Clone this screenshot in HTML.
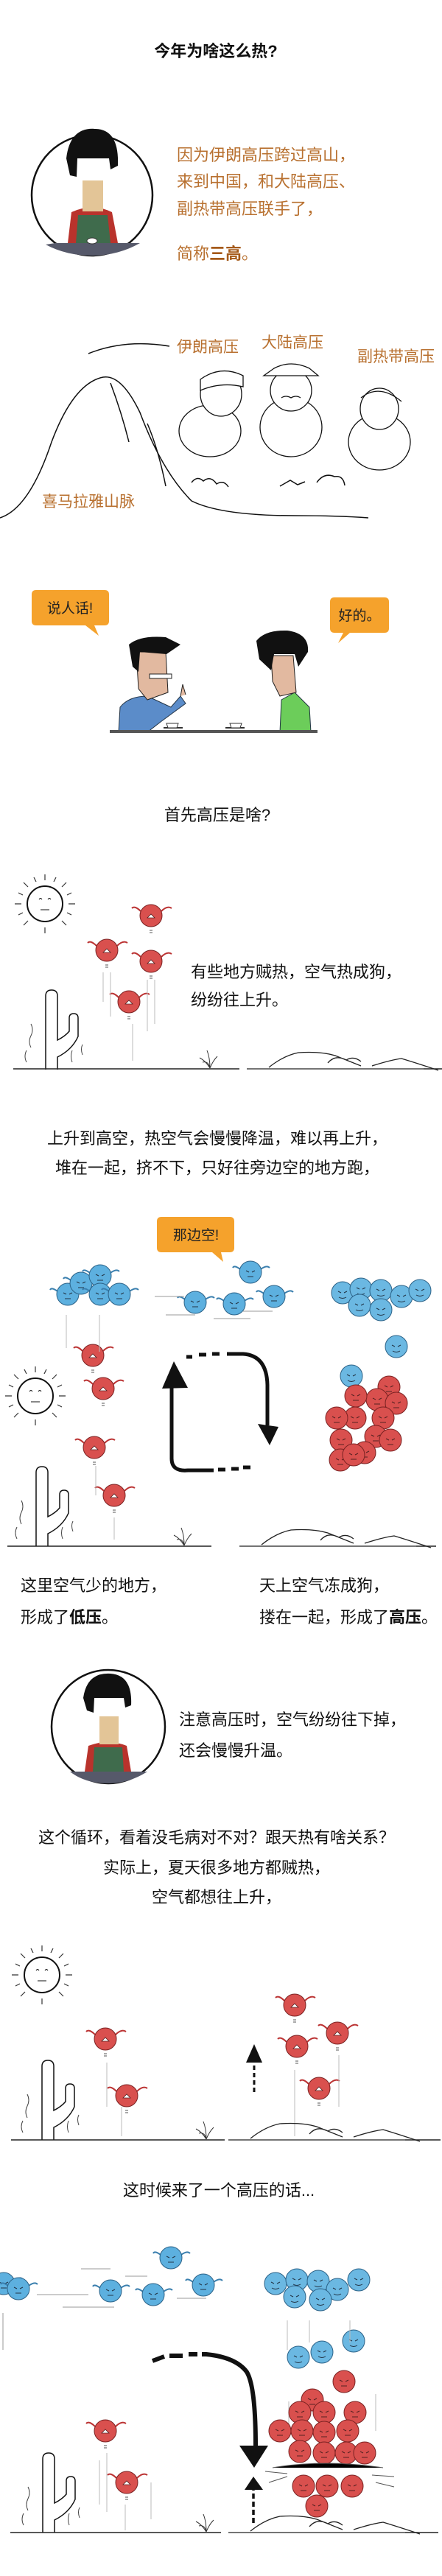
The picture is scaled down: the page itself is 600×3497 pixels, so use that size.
<!DOCTYPE html>
<html><head><meta charset="utf-8"><style>
html,body{margin:0;padding:0;background:#fff}
svg{display:block}
text{font-family:"Liberation Sans","Noto Sans CJK SC",sans-serif}
</style></head><body>
<svg width="600" height="3497" viewBox="0 0 600 3497" xmlns="http://www.w3.org/2000/svg">
<defs>
<g id="rb"><path d="M-14,-6 Q-22,-14 -26,-10 M14,-6 Q22,-14 28,-10" stroke="#b33" stroke-width="2" fill="none"/><circle r="15" fill="#d9504e" stroke="#7a2222" stroke-width="1"/><path d="M-5,3 L0,-2 L5,3 Z" fill="#fff" stroke="#522" stroke-width="0.8"/><path d="M-2,20 h4 M-2,23 h4" stroke="#555" stroke-width="1"/></g>
<g id="rr"><circle r="15" fill="#d9504e" stroke="#7a2222" stroke-width="1"/><path d="M-6,-2 l4,2 M6,-2 l-4,2 M-4,6 h8" stroke="#522" stroke-width="1"/></g>
<g id="bb"><path d="M-14,-4 Q-22,-10 -24,-6 M14,-4 Q22,-10 26,-6" stroke="#3a7fae" stroke-width="2" fill="none"/><circle r="15" fill="#5db0df" stroke="#2c6287" stroke-width="1"/><path d="M-6,-2 l4,2 M6,-2 l-4,2 M-4,6 h8" stroke="#234" stroke-width="1"/></g>
<g id="bs"><circle r="15" fill="#6bb8e2" stroke="#2c6287" stroke-width="1"/><path d="M-6,-2 l4,2 M6,-2 l-4,2 M-5,6 q5,3 10,0" stroke="#234" stroke-width="1" fill="none"/></g>
<g id="sun"><circle r="24" fill="none" stroke="#111" stroke-width="2"/><path d="M-8,-6 q2,-3 4,0 M4,-6 q2,-3 4,0 M-6,8 h12" stroke="#111" stroke-width="1" fill="none"/><g stroke="#333" stroke-width="1.2"><path d="M0,-32 v-8 M0,32 v8 M-32,0 h-9 M32,0 h9 M23,-23 l6,-6 M-23,-23 l-6,-6 M23,23 l6,6 M-23,23 l-6,6 M12,-30 l3,-6 M-12,-30 l-3,-6 M30,-12 l6,-3 M-30,-12 l-6,-3 M30,12 l6,3 M-30,12 l-6,3"/></g></g>
<g id="cactus"><path d="M0,0 V-100 q0,-8 8,-8 q8,0 8,8 V-40 q10,-5 16,-12 V-70 q0,-6 6,-6 q6,0 6,6 V-45 q-8,18 -28,28 V0" fill="#fff" stroke="#111" stroke-width="1.5"/><path d="M-20,-30 q-4,-8 0,-16 q4,-8 0,-16 M-26,-10 q-4,-8 0,-16 M36,-10 q-3,-8 0,-16 M50,-20 q-3,-8 0,-14" stroke="#444" fill="none" stroke-width="1"/></g>
<g id="grass"><path d="M0,0 q-6,-10 -14,-14 M0,0 q0,-14 -4,-24 M0,0 q4,-10 10,-16 M0,0 q-2,-10 -10,-8" stroke="#333" fill="none" stroke-width="1"/></g>
<g id="hills"><path d="M0,0 L240,0 M30,-2 q20,-16 40,-20 q30,-2 50,4 q20,8 35,14 M110,-8 q10,-12 25,-4 q10,-6 20,2 M170,-4 q25,-8 40,-10 q20,6 50,16" stroke="#222" fill="none" stroke-width="1.3"/></g>
</defs>

<!-- Title -->
<text x="293" y="77" font-size="22" font-weight="bold" text-anchor="middle" fill="#111">今年为啥这么热?</text>

<!-- Avatar circle 1 -->
<g>
<circle cx="125" cy="265" r="82" fill="#fff" stroke="#111" stroke-width="2.5"/>
<path d="M75,330 L175,330 L190,330 Q160,347 125,347 Q90,347 62,332 Z" fill="#56596a"/>
<path d="M92,330 L97,288 Q125,275 152,288 L160,330 Z" fill="#b9332c"/>
<path d="M103,330 L106,292 L146,292 L150,330 Z" fill="#3f6b4c"/>
<rect x="112" y="245" width="28" height="42" fill="#e3c597"/>
<path d="M90,215 Q95,172 130,175 Q162,176 160,225 L150,230 L148,215 L105,215 L104,240 L95,238 Z" fill="#111"/>
<ellipse cx="125" cy="327" rx="7" ry="4" fill="#fff" stroke="#333"/>
</g>
<g font-size="22" fill="#b8702f">
<text x="240" y="218">因为伊朗高压跨过高山，</text>
<text x="240" y="254">来到中国，和大陆高压、</text>
<text x="240" y="291">副热带高压联手了，</text>
<text x="240" y="352">简称<tspan font-weight="bold" fill="#a55a1a">三高</tspan>。</text>
</g>

<!-- Mountain scene -->
<g font-size="21" fill="#b8702f">
<text x="240" y="478">伊朗高压</text>
<text x="355" y="472">大陆高压</text>
<text x="485" y="491">副热带高压</text>
<text x="57" y="688">喜马拉雅山脉</text>
</g>
<g stroke="#111" fill="none" stroke-width="1.5">
<path d="M0,703 Q40,690 70,600 Q100,520 140,512 Q165,508 190,560 Q220,640 260,680 Q300,700 400,700 Q460,700 500,703"/>
<path d="M120,480 Q170,460 230,470"/>
<path d="M150,520 Q165,560 175,600 M200,575 Q215,610 225,660"/>
<path d="M260,655 q8,-10 16,-2 q10,-8 18,4 q10,-6 16,4 M430,655 q10,-14 24,-8 q12,-2 14,12"/>
<path d="M380,660 l14,-8 l10,6 l10,-4"/>
</g>
<!-- three characters -->
<g stroke="#111" stroke-width="1.3" fill="#fff">
<ellipse cx="285" cy="585" rx="42" ry="35"/>
<ellipse cx="300" cy="535" rx="28" ry="30"/>
<path d="M272,515 Q300,495 330,510 L330,525 Q300,518 272,530 Z"/>
<ellipse cx="395" cy="580" rx="42" ry="40"/>
<ellipse cx="395" cy="530" rx="28" ry="28"/>
<path d="M358,510 L432,510 L420,500 Q395,488 372,500 Z"/>
<path d="M382,540 q6,-4 13,0 q7,-4 13,0" fill="none"/>
<ellipse cx="515" cy="600" rx="42" ry="38"/>
<ellipse cx="515" cy="555" rx="26" ry="28"/>
<path d="M490,540 Q515,520 545,545" fill="none"/>
</g>

<!-- Talk scene -->
<path d="M52,801 H142 Q148,801 148,807 V843 Q148,849 142,849 H128 L134,863 L116,849 H49 Q43,849 43,843 V807 Q43,801 49,801 Z" fill="#f5a22c"/>
<text x="95" y="832" font-size="19" text-anchor="middle" fill="#222">说人话!</text>
<path d="M454,811 H522 Q528,811 528,817 V853 Q528,859 522,859 H475 L459,873 L466,859 H454 Q448,859 448,853 V817 Q448,811 454,811 Z" fill="#f5a22c"/>
<text x="488" y="842" font-size="19" text-anchor="middle" fill="#222">好的。</text>
<!-- left person -->
<path d="M161,994 L163,960 Q175,945 200,945 L232,960 L245,945 L252,955 L218,980 L200,994 Z" fill="#5b8cc9" stroke="#234" stroke-width="1"/>
<path d="M185,885 L225,885 L228,940 L200,950 L188,935 Z" fill="#e2b9a0" stroke="#222" stroke-width="1"/>
<path d="M175,875 Q190,862 225,865 L245,875 L226,888 L190,885 L188,912 L180,905 Z" fill="#111"/>
<path d="M203,915 h30 v6 h-30 z" fill="#fff" stroke="#222"/>
<path d="M245,945 l3,-16 l4,14" stroke="#222" fill="#e2b9a0"/>
<!-- right person -->
<path d="M380,994 L382,950 L400,940 L420,960 L422,994 Z" fill="#6ccd5a" stroke="#234" stroke-width="1"/>
<path d="M368,890 L398,890 L402,940 L380,945 L370,925 Z" fill="#e2b9a0" stroke="#222" stroke-width="1"/>
<path d="M348,870 Q360,855 390,856 Q420,860 418,885 L405,905 L400,888 L372,888 L368,910 L352,895 Z" fill="#111"/>
<rect x="149" y="991" width="282" height="4" fill="#555"/>
<path d="M222,988 h26 M306,988 h26" stroke="#333" stroke-width="2"/>
<path d="M226,982 h16 l-2,6 h-12 z M312,982 h16 l-2,6 h-12 z" fill="#fff" stroke="#333"/>

<text x="295" y="1114" font-size="22" text-anchor="middle" fill="#111">首先高压是啥?</text>

<!-- Scene 1 -->
<use href="#sun" x="61" y="1227"/>
<use href="#rb" x="205" y="1243"/>
<use href="#rb" x="145" y="1290"/>
<use href="#rb" x="205" y="1305"/>
<use href="#rb" x="175" y="1360"/>
<g stroke="#bbb" stroke-width="1"><path d="M140,1320 v40 M150,1320 v60 M180,1390 v50 M200,1330 v70 M210,1330 v60"/></g>
<use href="#cactus" x="62" y="1452"/>
<path d="M18,1451 H325" stroke="#222" stroke-width="1.5"/>
<use href="#grass" x="285" y="1450"/>
<use href="#hills" x="335" y="1451"/>
<path d="M575,1451 H600" stroke="#222" stroke-width="1.5"/>
<g font-size="22" fill="#111">
<text x="259" y="1327">有些地方贼热，空气热成狗，</text>
<text x="259" y="1365">纷纷往上升。</text>
</g>

<g font-size="22" fill="#111" text-anchor="middle">
<text x="295" y="1553">上升到高空，热空气会慢慢降温，难以再上升，</text>
<text x="295" y="1593">堆在一起，挤不下，只好往旁边空的地方跑，</text>
</g>

<!-- Scene 2 -->
<path d="M219,1652 H312 Q318,1652 318,1658 V1694 Q318,1700 312,1700 H300 L303,1713 L288,1700 H219 Q213,1700 213,1694 V1658 Q213,1652 219,1652 Z" fill="#f5a22c"/>
<text x="266" y="1683" font-size="19" text-anchor="middle" fill="#222">那边空!</text>
<use href="#bb" x="92" y="1757"/><use href="#bb" x="110" y="1742"/><use href="#bb" x="136" y="1732"/><use href="#bb" x="136" y="1757"/><use href="#bb" x="162" y="1757"/>
<use href="#bb" x="340" y="1727"/><use href="#bb" x="265" y="1768"/><use href="#bb" x="318" y="1770"/><use href="#bb" x="372" y="1760"/>
<g stroke="#999" stroke-width="1"><path d="M210,1760 h40 M225,1785 h40 M290,1790 h50 M330,1780 h40"/></g>
<use href="#bs" x="465" y="1755"/><use href="#bs" x="490" y="1750"/><use href="#bs" x="517" y="1752"/><use href="#bs" x="545" y="1760"/><use href="#bs" x="570" y="1752"/><use href="#bs" x="488" y="1772"/><use href="#bs" x="517" y="1778"/>
<use href="#bs" x="538" y="1828"/><use href="#bs" x="477" y="1868"/>
<use href="#rr" x="528" y="1883"/><use href="#rr" x="512" y="1900"/><use href="#rr" x="538" y="1905"/><use href="#rr" x="483" y="1895"/><use href="#rr" x="520" y="1925"/><use href="#rr" x="482" y="1925"/><use href="#rr" x="457" y="1925"/><use href="#rr" x="510" y="1950"/><use href="#rr" x="530" y="1955"/><use href="#rr" x="463" y="1955"/><use href="#rr" x="495" y="1972"/><use href="#rr" x="462" y="1982"/><use href="#rr" x="480" y="1975"/>
<use href="#sun" x="48" y="1895"/>
<use href="#rb" x="126" y="1840"/><use href="#rb" x="140" y="1885"/><use href="#rb" x="128" y="1965"/><use href="#rb" x="155" y="2030"/>
<g stroke="#bbb" stroke-width="1"><path d="M90,1785 v45 M135,1785 v50 M130,1990 v40 M155,2060 v30"/></g>
<!-- cycle arrows -->
<g fill="none" stroke="#111" stroke-width="5">
<path d="M233,1870 V1980 Q233,1998 255,1996 H290"/>
<path d="M296,1995 h10 M314,1994 h10 M330,1992 h10" stroke-width="5"/>
<path d="M253,1842 h8 M270,1839 h10 M288,1838 h10"/>
<path d="M308,1838 H330 Q362,1840 363,1880 V1935"/>
</g>
<path d="M220,1885 L236,1848 L255,1884 Z" fill="#111"/>
<path d="M350,1933 L378,1937 L366,1962 Z" fill="#111"/>
<use href="#cactus" x="49" y="2099"/>
<path d="M10,2099 H287" stroke="#222" stroke-width="1.5"/>
<use href="#grass" x="250" y="2098"/>
<use href="#hills" x="325" y="2099"/>
<path d="M565,2099 H592" stroke="#222" stroke-width="1.5"/>
<g font-size="22" fill="#111">
<text x="28" y="2160">这里空气少的地方，</text>
<text x="28" y="2203">形成了<tspan font-weight="bold">低压</tspan>。</text>
<text x="352" y="2160">天上空气冻成狗，</text>
<text x="352" y="2203">搂在一起，形成了<tspan font-weight="bold">高压</tspan>。</text>
</g>

<!-- Avatar circle 2 -->
<g>
<circle cx="147" cy="2344" r="77" fill="#fff" stroke="#111" stroke-width="2.5"/>
<path d="M95,2405 L200,2405 Q175,2421 147,2421 Q115,2421 95,2405 Z" fill="#56596a"/>
<path d="M115,2405 L120,2370 Q147,2360 172,2370 L178,2405 Z" fill="#b9332c"/>
<path d="M126,2405 L128,2372 L166,2372 L168,2405 Z" fill="#3f6b4c"/>
<rect x="135" y="2330" width="26" height="38" fill="#e3c597"/>
<path d="M113,2305 Q118,2270 150,2272 Q180,2274 178,2315 L170,2318 L168,2305 L128,2305 L127,2325 L118,2322 Z" fill="#111"/>
</g>
<g font-size="22" fill="#111">
<text x="243" y="2342">注意高压时，空气纷纷往下掉，</text>
<text x="243" y="2384">还会慢慢升温。</text>
</g>

<g font-size="22" fill="#111" text-anchor="middle">
<text x="294" y="2502">这个循环，看着没毛病对不对？跟天热有啥关系？</text>
<text x="294" y="2543">实际上，夏天很多地方都贼热，</text>
<text x="294" y="2583">空气都想往上升，</text>
</g>

<!-- Scene 3 -->
<use href="#sun" x="57" y="2681"/>
<use href="#rb" x="143" y="2768"/><use href="#rb" x="172" y="2845"/>
<use href="#rb" x="400" y="2722"/><use href="#rb" x="403" y="2778"/><use href="#rb" x="458" y="2760"/><use href="#rb" x="433" y="2835"/>
<g stroke="#bbb" stroke-width="1"><path d="M145,2800 v60 M165,2860 v40 M400,2810 v90 M460,2790 v70"/></g>
<path d="M345,2840 V2800" stroke="#111" stroke-width="3" stroke-dasharray="6,4"/>
<path d="M345,2775 L334,2800 L356,2800 Z" fill="#111"/>
<use href="#cactus" x="57" y="2905"/>
<path d="M15,2905 H305" stroke="#222" stroke-width="1.5"/>
<use href="#grass" x="280" y="2904"/>
<use href="#hills" x="310" y="2905"/>
<path d="M550,2905 H598" stroke="#222" stroke-width="1.5"/>

<text x="297" y="2981" font-size="22" text-anchor="middle" fill="#111">这时候来了一个高压的话...</text>

<!-- Scene 4 -->
<use href="#bb" x="5" y="3100"/><use href="#bb" x="25" y="3107"/>
<use href="#bb" x="150" y="3110"/><use href="#bb" x="208" y="3115"/><use href="#bb" x="232" y="3065"/><use href="#bb" x="276" y="3102"/>
<g stroke="#999" stroke-width="1"><path d="M50,3115 h70 M85,3132 h70 M110,3080 h40 M170,3090 h30 M240,3120 h40"/><path d="M4,3140 v50"/></g>
<use href="#bs" x="374" y="3100"/><use href="#bs" x="403" y="3095"/><use href="#bs" x="432" y="3097"/><use href="#bs" x="458" y="3108"/><use href="#bs" x="487" y="3095"/><use href="#bs" x="400" y="3118"/><use href="#bs" x="435" y="3122"/>
<use href="#bs" x="405" y="3200"/><use href="#bs" x="437" y="3193"/><use href="#bs" x="480" y="3178"/>
<g stroke="#bbb" stroke-width="1"><path d="M390,3150 v40 M420,3150 v30 M475,3150 v30 M392,3260 v50 M510,3250 v50"/></g>
<use href="#rr" x="467" y="3233"/><use href="#rr" x="424" y="3258"/><use href="#rr" x="407" y="3275"/><use href="#rr" x="440" y="3275"/><use href="#rr" x="482" y="3275"/>
<use href="#rr" x="380" y="3300"/><use href="#rr" x="410" y="3300"/><use href="#rr" x="440" y="3302"/><use href="#rr" x="472" y="3300"/>
<use href="#rr" x="407" y="3328"/><use href="#rr" x="440" y="3330"/><use href="#rr" x="470" y="3330"/><use href="#rr" x="495" y="3330"/>
<use href="#rr" x="412" y="3375"/><use href="#rr" x="444" y="3375"/><use href="#rr" x="478" y="3375"/><use href="#rr" x="430" y="3402"/>
<g stroke="#555" stroke-width="1"><path d="M360,3355 l30,3 M365,3370 l25,-8 M505,3360 l30,2 M510,3370 l25,6 M370,3350 q70,-12 150,0"/></g>
<g fill="none" stroke="#111" stroke-width="6">
<path d="M207,3205 l16,-6 M230,3198 h18 M256,3196 h12"/>
<path d="M274,3196 H280 Q320,3200 335,3220 Q347,3240 347,3320"/>
</g>
<path d="M325,3320 L364,3320 L345,3350 Z" fill="#111"/>
<path d="M344,3425 V3380" stroke="#111" stroke-width="3.5" stroke-dasharray="7,4"/>
<path d="M344,3362 L332,3380 L357,3380 Z" fill="#111"/>
<use href="#rb" x="143" y="3300"/><use href="#rb" x="172" y="3370"/>
<g stroke="#bbb" stroke-width="1"><path d="M135,3340 v60 M145,3330 v80 M170,3400 v35 M205,3370 v50"/></g>
<use href="#cactus" x="58" y="3438"/>
<path d="M14,3438 H300" stroke="#222" stroke-width="1.5"/>
<use href="#grass" x="280" y="3437"/>
<use href="#hills" x="310" y="3438"/>
<path d="M550,3438 H595" stroke="#222" stroke-width="1.5"/>
</svg>
</body></html>
